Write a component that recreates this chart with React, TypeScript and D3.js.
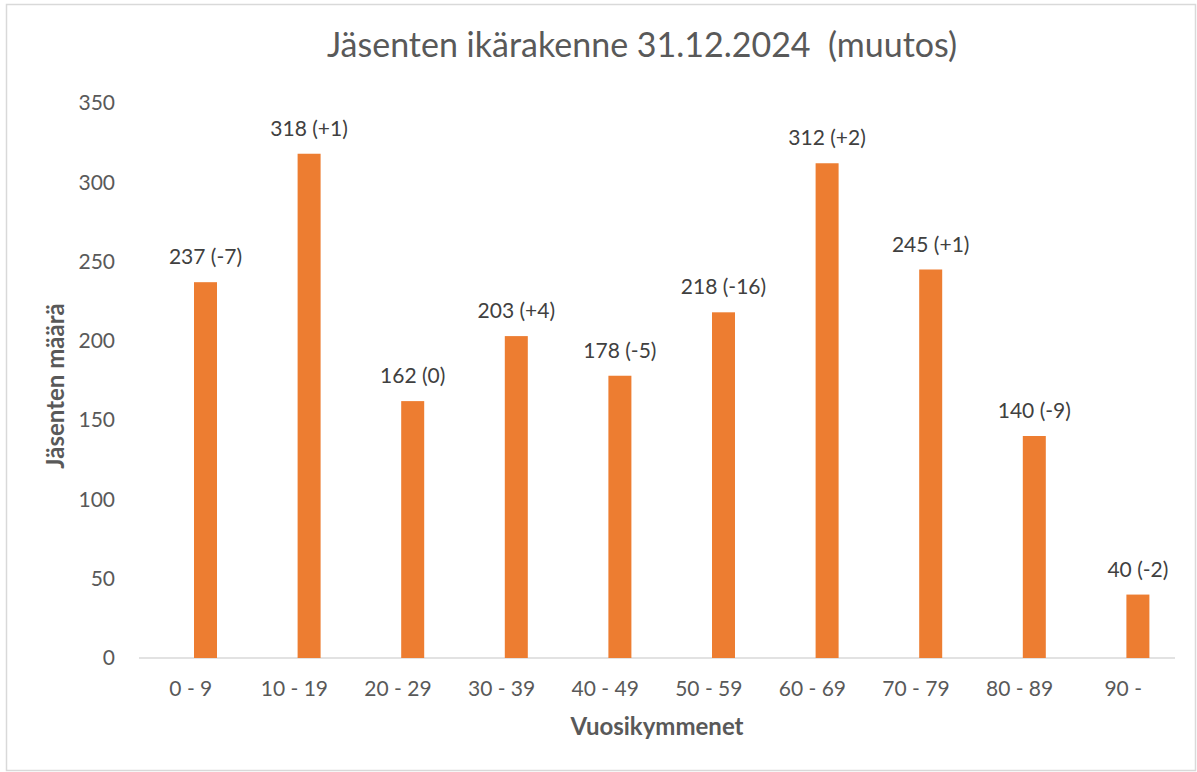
import React from "react";
import * as d3 from "d3";

const categories = ["0 - 9", "10 - 19", "20 - 29", "30 - 39", "40 - 49", "50 - 59", "60 - 69", "70 - 79", "80 - 89", "90 -"];
const values = [237, 318, 162, 203, 178, 218, 312, 245, 140, 40];
const changes = ["-7", "+1", "0", "+4", "-5", "-16", "+2", "+1", "-9", "-2"];
const yTicks = [0, 50, 100, 150, 200, 250, 300, 350];

const W = 1197;
const H = 772;
const FONT = "Lato, 'Open Sans', sans-serif";

export default function App() {
  const left = 139, right = 1175, top = 103, bottom = 658;
  const x = d3.scaleBand<string>().domain(categories).range([left, right]);
  const barW = 23;
  const barOffset = 14.7;
  const y = d3.scaleLinear().domain([0, 350]).range([bottom, top]);
  const cx = (c: string) => x(c)! + x.bandwidth() / 2;
  return (
    <svg width={W} height={H} style={{ position: "absolute", left: 0, top: 0, background: "#fff" }} fontFamily={FONT}>
      <rect x={6.5} y={4.5} width={1189} height={766} fill="#fff" stroke="#d9d9d9" strokeWidth={1.5} />
      <text x={642} y={57} textAnchor="middle" fontSize={34} fill="#595959" style={{ whiteSpace: "pre" }}>Jäsenten ikärakenne 31.12.2024  (muutos)</text>
      {yTicks.map((t) => (
        <text key={t} x={115} y={y(t)} dy="0.35em" textAnchor="end" fontSize={21} fill="#595959">{t}</text>
      ))}
      <line x1={left} x2={right} y1={bottom} y2={bottom} stroke="#d9d9d9" strokeWidth={1.5} />
      {categories.map((c, i) => (
        <g key={c}>
          <rect x={cx(c) + barOffset - barW / 2} y={y(values[i])} width={barW} height={bottom - y(values[i])} fill="#ED7D31" />
          <text x={cx(c) + barOffset} y={y(values[i]) - 18} textAnchor="middle" fontSize={21} fill="#404040">
            {`${values[i]} (${changes[i]})`}
          </text>
          <text x={cx(c)} y={696} textAnchor="middle" fontSize={21} fill="#595959">{c}</text>
        </g>
      ))}
      <text x={657} y={735} textAnchor="middle" fontSize={24} fontWeight="bold" fill="#595959">Vuosikymmenet</text>
      <text transform={`translate(64, 386) rotate(-90)`} textAnchor="middle" fontSize={24} fontWeight="bold" fill="#595959">Jäsenten määrä</text>
    </svg>
  );
}
